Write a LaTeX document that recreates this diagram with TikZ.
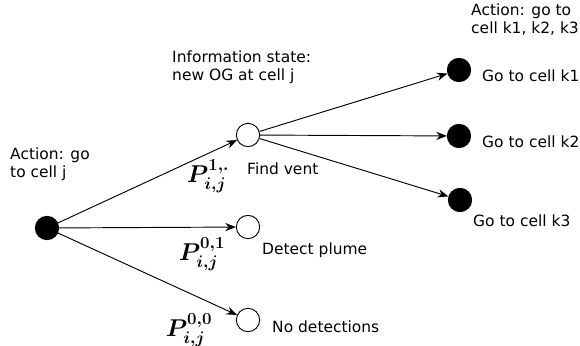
\documentclass[tikz,border=0pt]{standalone}
\usepackage{amsmath}
\usepackage{amssymb}
\usepackage{fontspec}
\setmainfont{DejaVu Sans}
\usetikzlibrary{arrows.meta, positioning}

\begin{document}
\begin{tikzpicture}[
		x=0.03cm, y=-0.03cm,
		>={Stealth[length=9pt, width=7pt]},
		action/.style={circle, draw, thick, fill=black, minimum size=0.7cm, inner sep=0pt},
		state/.style={circle, draw, thick, fill=white, minimum size=0.7cm, inner sep=0pt},
		txt/.style={align=left, font=\fontsize{13.2}{16.2}\selectfont, inner sep=0pt, anchor=base west},
		prob/.style={font=\fontsize{20}{22}\selectfont, inner sep=0pt},
		arr/.style={->, thick},
	]
		\useasboundingbox (0,0) rectangle (580,346);

		% Root action (two-line labels sit on their last baseline)
		\node[action] (root) at (47,228) {};
		\node[txt] (rootlbl) at (10,178) {Action: go\\to cell j};

		% Observation outcomes
		\node[state] (vent) at (248,135) {};
		\node[state] (plume) at (248,227) {};
		\node[state] (none) at (248,320) {};
		\node[txt] (info) at (172,81) {Information state:\\new OG at cell j};
		\node[txt] (ventlbl) at (247,175) {Find vent};
		\node[txt] (plumelbl) at (262,255) {Detect plume};
		\node[txt] (nonelbl) at (272,333) {No detections};

		% Next actions
		\node[action] (k1) at (459,70) {};
		\node[action] (k2) at (459,136) {};
		\node[action] (k3) at (460,200) {};
		\node[txt] (nextlbl) at (471,34) {Action: go to\\cell k1, k2, k3};
		\node[txt] (k1lbl) at (482,82) {Go to cell k1};
		\node[txt] (k2lbl) at (482,148) {Go to cell k2};
		\node[txt] (k3lbl) at (473,227) {Go to cell k3};

		% Arrows
		\draw[arr] (root) -- (vent);
		\draw[arr] (root) -- (plume);
		\draw[arr] (root) -- (none);
		\draw[arr] (vent) -- (k1);
		\draw[arr] (vent) -- (k2);
		\draw[arr] (vent) -- (k3);

		% Probabilities
		\node[prob] (p1) at (208,176) {$\boldsymbol{P^{1,.}_{i,j}}$};
		\node[prob] (p01) at (202,254) {$\boldsymbol{P^{0,1}_{i,j}}$};
		\node[prob] (p00) at (189,330) {$\boldsymbol{P^{0,0}_{i,j}}$};
	\end{tikzpicture}
\end{document}
